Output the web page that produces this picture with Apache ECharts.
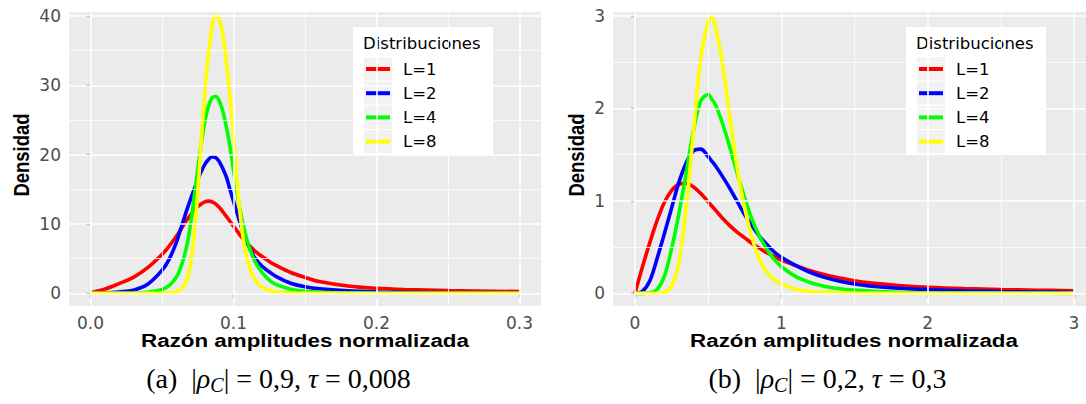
<!DOCTYPE html>
<html><head><meta charset="utf-8">
<script src="https://cdn.jsdelivr.net/npm/echarts@6/dist/echarts.min.js"></script>
<style>html,body{margin:0;padding:0;background:#fff}#c{width:1086px;height:404px}</style>
</head><body><div id="c"></div>
<script>
// ---------- Panel (a) data ----------
const xA = [0, 0.01, 0.02, 0.03, 0.04, 0.05, 0.055, 0.06, 0.0625, 0.065, 0.0675, 0.07, 0.0725, 0.075, 0.0775, 0.08, 0.0825, 0.085, 0.0875, 0.09, 0.0925, 0.095, 0.0975, 0.1, 0.1025, 0.105, 0.1075, 0.11, 0.1125, 0.115, 0.12, 0.125, 0.13, 0.14, 0.15, 0.16, 0.18, 0.2, 0.22, 0.25, 0.3];
const redA = [0.1, 0.6, 1.4, 2.3, 3.7, 5.6, 6.8, 8.2, 9.0, 9.8, 10.6, 11.3, 12.0, 12.5, 12.9, 13.2, 13.3, 13.2, 12.9, 12.4, 11.8, 11.1, 10.4, 9.7, 9.0, 8.3, 7.7, 7.1, 6.6, 6.1, 5.3, 4.6, 4.0, 3.0, 2.3, 1.7, 1.05, 0.72, 0.55, 0.4, 0.25];
const blueA = [0, 0.05, 0.2, 0.45, 1.3, 3.3, 4.9, 7.3, 8.9, 10.5, 12.1, 13.6, 15.0, 16.4, 17.6, 18.6, 19.3, 19.7, 19.6, 19.0, 18.0, 16.8, 15.0, 13.3, 11.6, 9.9, 8.4, 7.1, 6.0, 5.1, 3.9, 3.1, 2.4, 1.45, 0.95, 0.65, 0.35, 0.2, 0.13, 0.08, 0.04];
const greenA = [0, 0, 0, 0.02, 0.15, 0.55, 1.1, 2.3, 3.4, 4.9, 7.0, 10.0, 13.8, 17.8, 21.6, 24.8, 27.0, 28.2, 28.4, 27.8, 26.3, 24.0, 21.2, 17.8, 14.6, 11.6, 9.2, 7.3, 5.8, 4.6, 3.0, 1.9, 1.25, 0.6, 0.3, 0.15, 0.05, 0.02, 0.01, 0, 0];
const yellowA = [0, 0, 0, 0, 0, 0, 0.05, 0.25, 0.5, 1.0, 2.0, 4.2, 8.5, 14.5, 22.0, 29.0, 34.5, 38.3, 40.0, 39.6, 37.3, 33.5, 28.5, 22.8, 16.0, 10.8, 7.0, 4.6, 3.0, 2.0, 0.9, 0.4, 0.15, 0.03, 0, 0, 0, 0, 0, 0, 0];
const xTicksA = [0, 0.1, 0.2, 0.3];
const xMinorA = [0.05, 0.15, 0.25];
const yTicksA = [0, 10, 20, 30, 40];
const yMinorA = [5, 15, 25, 35];

// ---------- Panel (b) data ----------
const xB = [0, 0.05, 0.1, 0.15, 0.2, 0.25, 0.3, 0.35, 0.4, 0.45, 0.5, 0.525, 0.55, 0.6, 0.65, 0.7, 0.75, 0.8, 0.85, 0.9, 0.95, 1.0, 1.1, 1.2, 1.3, 1.4, 1.5, 1.6, 1.8, 2.0, 2.25, 2.5, 2.75, 3.0];
const redB = [0, 0.28, 0.54, 0.78, 0.98, 1.11, 1.18, 1.19, 1.15, 1.08, 0.99, 0.945, 0.9, 0.81, 0.73, 0.66, 0.6, 0.54, 0.49, 0.44, 0.4, 0.36, 0.3, 0.245, 0.2, 0.165, 0.135, 0.113, 0.085, 0.066, 0.051, 0.041, 0.034, 0.028];
const blueB = [0, 0.02, 0.13, 0.37, 0.64, 0.92, 1.2, 1.41, 1.54, 1.56, 1.48, 1.43, 1.38, 1.26, 1.13, 0.99, 0.85, 0.73, 0.62, 0.53, 0.45, 0.39, 0.3, 0.225, 0.17, 0.13, 0.1, 0.08, 0.055, 0.04, 0.028, 0.02, 0.015, 0.012];
const greenB = [0, 0, 0.005, 0.04, 0.18, 0.48, 0.86, 1.3, 1.76, 2.08, 2.15, 2.1, 2.04, 1.83, 1.57, 1.29, 1.03, 0.8, 0.62, 0.48, 0.37, 0.29, 0.18, 0.115, 0.075, 0.05, 0.035, 0.025, 0.012, 0.006, 0.003, 0.002, 0.001, 0];
const yellowB = [0, 0, 0, 0, 0.01, 0.08, 0.33, 0.92, 1.75, 2.55, 2.93, 3.0, 2.88, 2.47, 1.9, 1.34, 0.92, 0.6, 0.37, 0.23, 0.15, 0.1, 0.045, 0.02, 0.01, 0.005, 0, 0, 0, 0, 0, 0, 0, 0];
const xTicksB = [0, 1, 2, 3];
const xMinorB = [0.5, 1.5, 2.5];
const yTicksB = [0, 1, 2, 3];
const yMinorB = [0.5, 1.5, 2.5];

const seriesNames = ['L=1', 'L=2', 'L=4', 'L=8'];
const seriesColors = ['#FF0000', '#0000FF', '#00FF00', '#FFFF00'];
const legendTitle = 'Distribuciones';
const xTitle = 'Razón amplitudes normalizada';
const yTitle = 'Densidad';

const chart = echarts.init(document.getElementById('c'), null, {renderer: 'svg'});

function gridLines(idx, xMaj, xMin, yMaj, yMin) {
  const maj = {color: '#FFFFFF', width: 1.6, type: 'solid'};
  const mn = {color: '#FFFFFF', width: 0.8, type: 'solid'};
  return {
    type: 'line', xAxisIndex: idx, yAxisIndex: idx, data: [], z: 1, silent: true,
    markLine: {
      silent: true, symbol: ['none', 'none'], label: {show: false}, animation: false,
      emphasis: {disabled: true},
      data: [].concat(
        xMin.map(v => ({xAxis: v, lineStyle: mn})),
        yMin.map(v => ({yAxis: v, lineStyle: mn})),
        xMaj.map(v => ({xAxis: v, lineStyle: maj})),
        yMaj.map(v => ({yAxis: v, lineStyle: maj}))
      )
    }
  };
}

function curves(idx, xs, sets) {
  return sets.map((ys, i) => ({
    type: 'line', name: seriesNames[i], xAxisIndex: idx, yAxisIndex: idx,
    data: xs.map((x, j) => [x, ys[j]]),
    symbol: 'none', smooth: 0.35, z: 2,
    lineStyle: {color: seriesColors[i], width: 3.6},
    itemStyle: {color: seriesColors[i]},
    emphasis: {disabled: true}
  }));
}

const tickFont = {fontFamily: 'DejaVu Sans', fontSize: 17, color: '#4D4D4D'};

function xAxisCfg(idx, min, max, ticks, fmt) {
  return {
    type: 'value', gridIndex: idx, min: min, max: max,
    axisLine: {show: false}, splitLine: {show: false},
    axisTick: {show: true, length: 4, customValues: ticks, lineStyle: {color: '#333333', width: 1.2}},
    axisLabel: Object.assign({show: true, margin: 8, customValues: ticks, formatter: fmt}, tickFont)
  };
}
function yAxisCfg(idx, min, max, ticks) {
  return {
    type: 'value', gridIndex: idx, min: min, max: max,
    axisLine: {show: false}, splitLine: {show: false},
    axisTick: {show: true, length: 4, customValues: ticks, lineStyle: {color: '#333333', width: 1.2}},
    axisLabel: Object.assign({show: true, margin: 8, customValues: ticks, formatter: v => String(v)}, tickFont)
  };
}

// ---------- text helpers ----------
const NB = '\u00A0';
const mctx = document.createElement('canvas').getContext('2d');
function caption(cx, cy, pieces) {
  const base = 28, sub = 20, fam = '"Liberation Serif"';
  const specs = pieces.map(p => {
    const size = p.sub ? sub : base;
    const style = p.it ? 'italic' : 'normal';
    mctx.font = style + ' ' + size + 'px ' + fam;
    return {p, size, style, w: mctx.measureText(p.t).width};
  });
  const total = specs.reduce((a, s) => a + s.w, 0);
  let x = cx - total / 2;
  return specs.map(s => {
    const el = {type: 'text', x: x, y: cy + (s.p.sub ? 7 : 0), z: 3, silent: true,
      style: {text: s.p.t, fontFamily: 'Liberation Serif', fontSize: s.size, fontStyle: s.style,
        fill: '#000', align: 'left', verticalAlign: 'middle'}};
    x += s.w;
    return el;
  });
}

// legend drawn as a box: white background, grey key cells, coloured key bars, labels
function legendBlock(bx) {
  const els = [{type: 'rect', z: 3, silent: true, shape: {x: bx, y: 27, width: 140, height: 128}, style: {fill: '#FFFFFF'}}];
  els.push({type: 'text', z: 3, silent: true, x: bx + 10, y: 43,
    style: {text: legendTitle, fontFamily: 'DejaVu Sans', fontSize: 16.5, fill: '#000', align: 'left', verticalAlign: 'middle'}});
  seriesNames.forEach((n, i) => {
    const cy = 69 + 24.2 * i;
    els.push({type: 'rect', z: 3, silent: true, shape: {x: bx + 11, y: cy - 11.5, width: 28, height: 23}, style: {fill: '#F2F2F2'}});
    els.push({type: 'rect', z: 4, silent: true, shape: {x: bx + 13, y: cy - 2, width: 24, height: 4}, style: {fill: seriesColors[i]}});
    els.push({type: 'text', z: 4, silent: true, x: bx + 50, y: cy,
      style: {text: n, fontFamily: 'DejaVu Sans', fontSize: 16.5, fill: '#000', align: 'left', verticalAlign: 'middle'}});
  });
  return els;
}

function axisTitles(xc, yx) {
  return [
    {type: 'text', z: 3, silent: true, x: xc, y: 340, scaleX: 1.177,
      style: {text: xTitle, fontFamily: 'Liberation Sans', fontWeight: 'bold', fontSize: 19, fill: '#000', align: 'center', verticalAlign: 'middle'}},
    {type: 'text', z: 3, silent: true, x: yx, y: 155, rotation: Math.PI / 2, scaleY: 1.2,
      style: {text: yTitle, fontFamily: 'Liberation Sans', fontWeight: 'bold', fontSize: 18.5, fill: '#000', align: 'center', verticalAlign: 'middle'}}
  ];
}

const graphics = [].concat(
  legendBlock(353), legendBlock(906),
  axisTitles(305, 21), axisTitles(854, 576),
  caption(278.5, 378, [{t: '(a)' + NB + NB + '|'}, {t: 'ρ', it: 1}, {t: 'C', it: 1, sub: 1}, {t: '|' + NB + '=' + NB + '0,9,' + NB}, {t: 'τ' + NB, it: 1}, {t: '=' + NB + '0,008'}]),
  caption(827.5, 378, [{t: '(b)' + NB + NB + '|'}, {t: 'ρ', it: 1}, {t: 'C', it: 1, sub: 1}, {t: '|' + NB + '=' + NB + '0,2,' + NB}, {t: 'τ' + NB, it: 1}, {t: '=' + NB + '0,3'}])
);

const option = {
  animation: false,
  backgroundColor: '#FFFFFF',
  grid: [
    {left: 69, top: 12, width: 472, height: 294, show: true, backgroundColor: '#EBEBEB', borderWidth: 0},
    {left: 613, top: 12, width: 473, height: 294, show: true, backgroundColor: '#EBEBEB', borderWidth: 0}
  ],
  xAxis: [
    xAxisCfg(0, -0.015, 0.315, xTicksA, v => v.toFixed(1)),
    xAxisCfg(1, -0.15, 3.082, xTicksB, v => String(v))
  ],
  yAxis: [
    yAxisCfg(0, -1.83, 40.58, yTicksA),
    yAxisCfg(1, -0.137, 3.043, yTicksB)
  ],
  graphic: {elements: graphics},
  series: [].concat(
    gridLines(0, xTicksA, xMinorA, yTicksA, yMinorA),
    gridLines(1, xTicksB, xMinorB, yTicksB, yMinorB),
    curves(0, xA, [redA, blueA, greenA, yellowA]),
    curves(1, xB, [redB, blueB, greenB, yellowB])
  )
};
chart.setOption(option);
</script></body></html>
